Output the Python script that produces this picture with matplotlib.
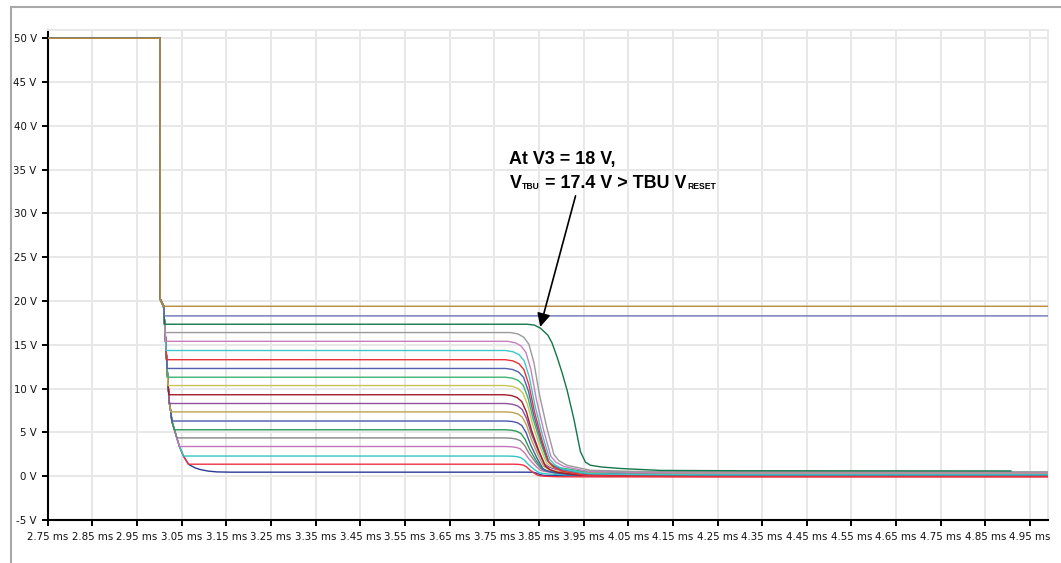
import os
import numpy as np
import matplotlib
matplotlib.use("Agg")
import matplotlib.pyplot as plt
from matplotlib import font_manager
from matplotlib.font_manager import FontProperties
from matplotlib.lines import Line2D

plt.rcParams["path.simplify"] = False

# ---------------- data ----------------
x_ticks = [2.75, 2.85, 2.95, 3.05, 3.15, 3.25, 3.35, 3.45, 3.55, 3.65, 3.75,
           3.85, 3.95, 4.05, 4.15, 4.25, 4.35, 4.45, 4.55, 4.65, 4.75, 4.85, 4.95]
x_labels = ["%.2f ms" % v for v in x_ticks]
y_ticks = [-5, 0, 5, 10, 15, 20, 25, 30, 35, 40, 45, 50]
y_labels = ["%d V" % v for v in y_ticks]

# plateau level of each trace (V), bottom to top
levels = [0.46, 1.37, 2.3, 3.39, 4.37, 5.3, 6.3, 7.34, 8.3, 9.3,
          10.35, 11.3, 12.3, 13.3, 14.35, 15.4, 16.4, 17.35, 18.3, 19.4]
colors = ["#2a3a98", "#ee3040", "#33c4c4", "#c475bb", "#858585", "#2a9a5a",
          "#4a58a8", "#c0a050", "#8e52a0", "#a01c28", "#c8c45a", "#3db36e",
          "#5060b0", "#e8303a", "#3cc8c8", "#c77fc0", "#9a9a9a", "#13764a",
          "#6a74b4", "#b8893a"]
# time where each trace starts to fall / reaches the floor (ms); None = no reset
knee_ms = [3.8242, 3.7928, 3.7794, 3.7749, 3.7749, 3.7749, 3.7771, 3.7771,
           3.7749, 3.7727, 3.7749, 3.7749, 3.7749, 3.7749, 3.7749, 3.7794,
           3.7861, None, None, None]
bottom_ms = [3.8645, 3.8556, 3.8600, 3.8645, 3.8667, 3.8690, 3.8712, 3.8734,
             3.8757, 3.8779, 3.8802, 3.8824, 3.8847, 3.8869, 3.8891, 3.8914,
             3.8981, None, None, None]
final_v = [0.05, -0.08, 0.15, 0.30, 0.35, 0.20, 0.10, 0.25, 0.40, 0.0,
           0.30, 0.45, 0.20, -0.05, 0.15, 0.40, 0.50, 0.60, 18.3, 19.4]

# common decay envelope after the 50 V source switches off
env_t = [3.0015, 3.0020, 3.0095, 3.0106, 3.0118, 3.0129, 3.0140, 3.0151,
         3.0163, 3.0174, 3.0185, 3.0196, 3.0212, 3.0225, 3.0257, 3.0279,
         3.0337, 3.0391, 3.0449, 3.0539, 3.0651, 3.0689, 3.0801, 3.0913,
         3.1093, 3.1288, 3.1587]
env_v = [50.0, 20.2, 19.4, 18.3, 17.35, 16.4, 15.4, 14.35, 13.3, 12.3, 11.3,
         10.35, 9.3, 8.3, 7.34, 6.3, 5.3, 4.37, 3.39, 2.3, 1.37, 1.25, 0.95,
         0.76, 0.58, 0.49, 0.46]

# normalised fall profile
prof_u = [0.0, 0.15, 0.27, 0.37, 0.47, 0.58, 0.73, 0.87, 0.97, 1.13, 1.6, 2.5, 4.0]
prof_f = [1.0, 0.99, 0.966, 0.916, 0.785, 0.557, 0.315, 0.124, 0.08, 0.047,
          0.011, 0.003, 0.0]

# the 17.4 V trace (V3 = 18 V), read point by point
green_t = [3.8235, 3.8400, 3.8533, 3.8700, 3.8795, 3.8907, 3.9020, 3.9132,
           3.9280, 3.9430, 3.9542, 3.9653, 3.9900, 4.0326, 4.1222, 4.3000, 4.9070]
green_v = [17.35, 17.25, 16.9, 16.1, 15.2, 13.6, 11.8, 9.8, 6.6, 2.8, 1.6,
           1.25, 1.05, 0.88, 0.66, 0.62, 0.60]

t_start = 2.75
t_end = 4.99
annot_line1 = "At V3 = 18 V,"

# ---------------- fonts ----------------
def pick_condensed():
    prefs = ["liberationsansnarrow-regular", "notosans-semicondensed.",
             "notosans-condensed.", "dejavusanscondensed.", "opensans-condensed",
             "opensans_semicondensed-regular", "opensans_condensed-regular",
             "robotocondensed-regular", "roboto_condensed-regular"]
    files = [f.fname for f in font_manager.fontManager.ttflist]
    for p in prefs:
        for fn in files:
            if os.path.basename(fn).lower().startswith(p):
                return fn
    return None

cond = pick_condensed()
names = {f.name for f in font_manager.fontManager.ttflist}
if cond is not None:
    tick_fp = FontProperties(fname=cond, size=8.2)
else:
    tick_fp = FontProperties(family="Liberation Sans" if "Liberation Sans" in names
                             else "DejaVu Sans", size=7.2)
ann_font = "Liberation Sans" if "Liberation Sans" in names else "DejaVu Sans"

# ---------------- figure ----------------
fig = plt.figure(figsize=(10.61, 5.63), dpi=100)
ax = fig.add_axes([0.0450, 0.0764, 0.9427, 0.8712])

ax.set_xlim(t_start, t_end)
ax.set_ylim(-5, 51)
ax.set_xticks(x_ticks)
ax.set_xticklabels(x_labels, fontproperties=tick_fp)
ax.set_yticks(y_ticks)
ax.set_yticklabels(y_labels, fontproperties=tick_fp)
ax.tick_params(axis="both", direction="out", length=4, width=1.4, color="black",
               labelcolor="#111111")
ax.tick_params(axis="x", pad=5)
ax.tick_params(axis="y", pad=4)
ax.grid(True, color="#e8e8e8", lw=1.4)
ax.set_axisbelow(True)
for s in ("left", "bottom"):
    ax.spines[s].set_color("black")
    ax.spines[s].set_linewidth(1.5)
for s in ("right", "top"):
    ax.spines[s].set_color("#e8e8e8")
    ax.spines[s].set_linewidth(1.4)

env_t_arr = np.array(env_t)
env_v_arr = np.array(env_v)

for i, L in enumerate(levels):
    tb = float(np.interp(L, env_v_arr[::-1], env_t_arr[::-1]))
    mask = env_v_arr > L
    tt = [t_start] + list(env_t_arr[mask]) + [tb]
    vv = [50.0] + list(env_v_arr[mask]) + [L]
    if i == 17:
        tt += green_t
        vv += green_v
    elif knee_ms[i] is None:
        tt += [t_end]
        vv += [L]
    else:
        k, b, fv = knee_ms[i], bottom_ms[i], final_v[i]
        u = np.array(prof_u)
        f = np.array(prof_f)
        tt += list(k + u * (b - k)) + [t_end]
        vv += list(fv + (L - fv) * f) + [fv]
    ax.plot(tt, vv, color=colors[i], lw=1.0, solid_joinstyle="round", snap=False,
            zorder=3 + (1 if i == len(levels) - 1 else 0))

# ---------------- annotation ----------------
fs_main = 12.9
fs_sub = 6.2
txt_kw = dict(fontfamily=ann_font, fontweight="bold", color="black", zorder=5)
x0 = 3.784
ax.text(x0, 35.7, annot_line1, fontsize=fs_main, va="baseline", ha="left", **txt_kw)
base2 = 32.9
p1 = ax.text(x0, base2, "V", fontsize=fs_main, va="baseline", ha="left", **txt_kw)
p2 = ax.annotate("TBU", xy=(1, base2), xycoords=(p1, "data"), xytext=(0.6, -1.0),
                 textcoords="offset points", fontsize=fs_sub, va="baseline", ha="left", **txt_kw)
p3 = ax.annotate(" = 17.4 V > TBU V", xy=(1, base2), xycoords=(p2, "data"),
                 xytext=(0, 0), textcoords="offset points", fontsize=fs_main,
                 va="baseline", ha="left", **txt_kw)
p4 = ax.annotate("RESET", xy=(1, base2), xycoords=(p3, "data"), xytext=(0.6, -1.0),
                 textcoords="offset points", fontsize=fs_sub, va="baseline", ha="left", **txt_kw)

ax.annotate("", xy=(3.853, 17.05), xytext=(3.932, 32.0), xycoords="data",
            arrowprops=dict(arrowstyle="-|>", color="black", lw=1.2,
                            mutation_scale=20, shrinkA=0, shrinkB=0), zorder=6)

# outer frame (top and left edges)
fig.add_artist(Line2D([10.5 / 1061, 10.5 / 1061], [0, 1 - 6.5 / 563],
                      transform=fig.transFigure, color="#a8a8a8", lw=1.5))
fig.add_artist(Line2D([10.5 / 1061, 1], [1 - 6.5 / 563, 1 - 6.5 / 563],
                      transform=fig.transFigure, color="#a8a8a8", lw=1.5))

fig.savefig("out.png", dpi=100)
